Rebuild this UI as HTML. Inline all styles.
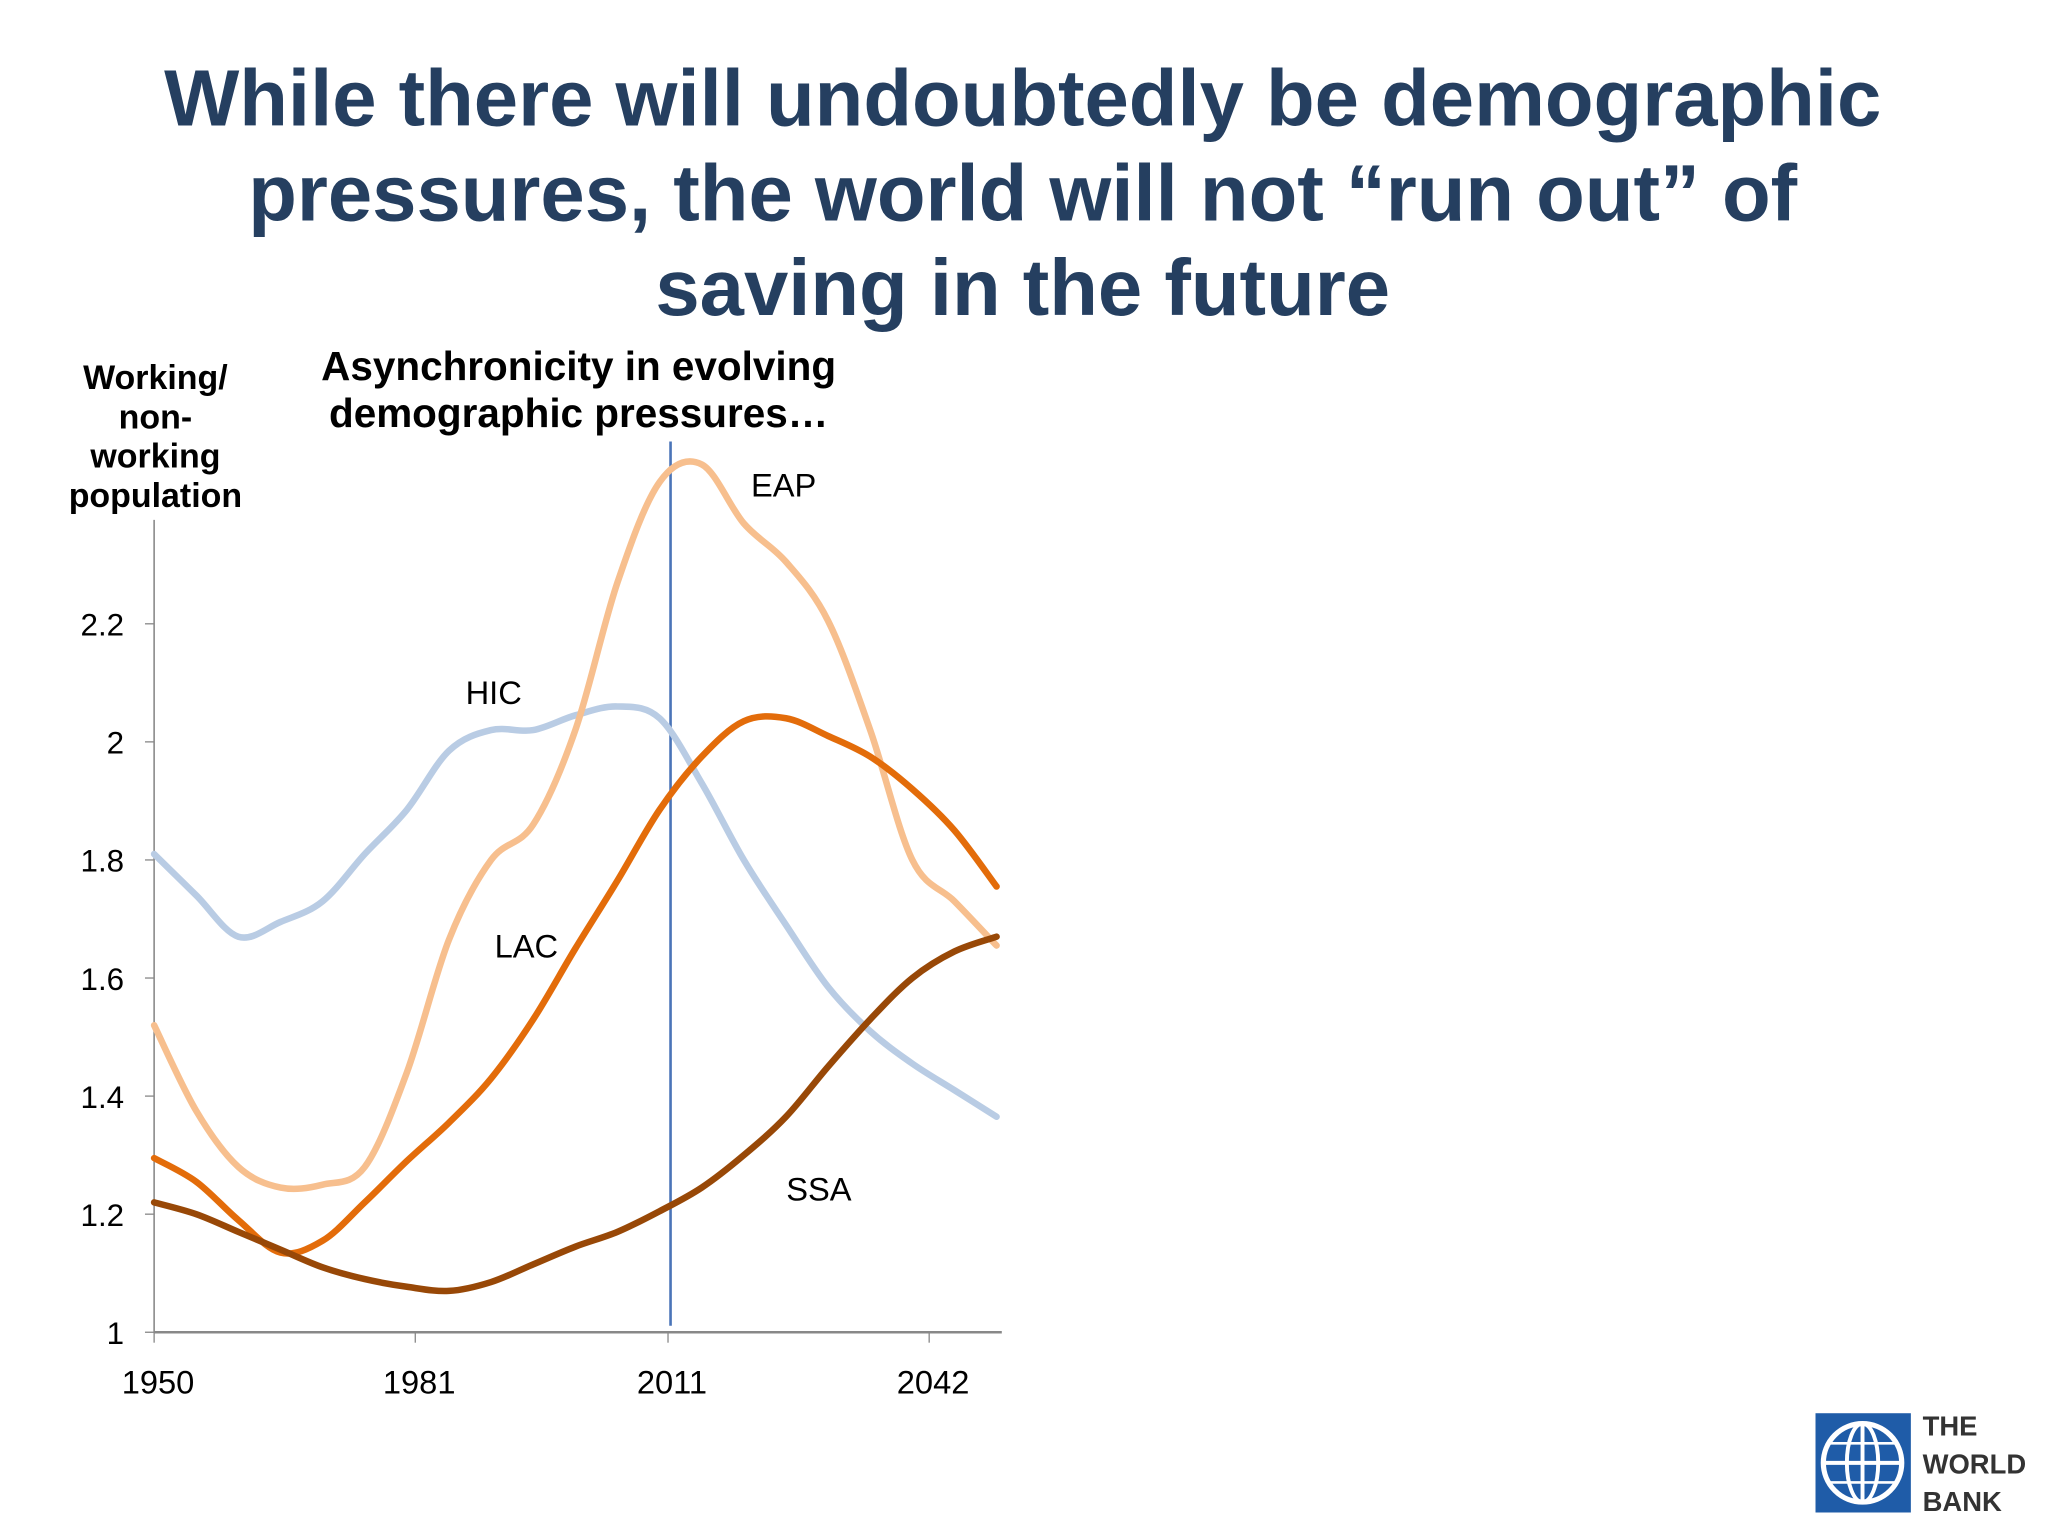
<!DOCTYPE html>
<html><head><meta charset="utf-8"><style>
html,body{margin:0;padding:0;background:#fff;}
svg{display:block;font-family:"Liberation Sans",sans-serif;}
</style></head><body>
<svg id="c" width="2048" height="1536" viewBox="0 0 1568 1176">
<g font-weight="bold" font-size="61" fill="#253f60" text-anchor="middle">
<text x="783" y="96">While there will undoubtedly be demographic</text>
<text x="783" y="169">pressures, the world will not “run out” of</text>
<text x="783" y="241">saving in the future</text>
</g>
<g font-weight="bold" font-size="26" text-anchor="middle" fill="#000">
<text x="119" y="298">Working/</text><text x="119" y="328">non-</text><text x="119" y="358">working</text><text x="119" y="388">population</text>
</g>
<g font-weight="bold" font-size="31" text-anchor="middle" fill="#000">
<text x="443" y="291">Asynchronicity in evolving</text><text x="443" y="327">demographic pressures…</text>
</g>
<g id="axes"></g>
<g id="series"></g>
<g>
<rect x="1390" y="1082" width="73" height="76" fill="#1f5ca8"/>
<circle cx="1426" cy="1120" r="30" fill="none" stroke="#fff" stroke-width="4"/>
<ellipse cx="1426" cy="1120" rx="12" ry="30" fill="none" stroke="#fff" stroke-width="3"/>
<line x1="1396" y1="1120" x2="1456" y2="1120" stroke="#fff" stroke-width="3"/>
<line x1="1426" y1="1090" x2="1426" y2="1150" stroke="#fff" stroke-width="3"/>
<line x1="1400" y1="1105" x2="1452" y2="1105" stroke="#fff" stroke-width="2"/>
<line x1="1400" y1="1135" x2="1452" y2="1135" stroke="#fff" stroke-width="2"/>
<g font-weight="bold" font-size="21" fill="#333"><text x="1472" y="1099">THE</text><text x="1472" y="1128">WORLD</text><text x="1472" y="1157">BANK</text></g>
</g>
</svg>
<script>
const years=[1950,1955,1960,1965,1970,1975,1980,1985,1990,1995,2000,2005,2010,2015,2020,2025,2030,2035,2040,2045,2050];
const hic=[1.81,1.74,1.67,1.695,1.73,1.81,1.885,1.985,2.02,2.02,2.045,2.06,2.04,1.93,1.80,1.69,1.585,1.51,1.455,1.41,1.365];
const eap=[1.52,1.375,1.28,1.245,1.25,1.28,1.44,1.665,1.80,1.86,2.02,2.27,2.44,2.47,2.37,2.305,2.205,2.02,1.80,1.73,1.655];
const lac=[1.295,1.255,1.19,1.135,1.155,1.22,1.29,1.355,1.43,1.53,1.65,1.765,1.885,1.975,2.035,2.04,2.01,1.975,1.92,1.85,1.755];
const ssa=[1.22,1.2,1.17,1.14,1.11,1.09,1.077,1.07,1.085,1.115,1.145,1.17,1.205,1.245,1.30,1.365,1.45,1.53,1.60,1.645,1.67];
const yTicks=[1,1.2,1.4,1.6,1.8,2,2.2];
const yTickLabels=["1","1.2","1.4","1.6","1.8","2","2.2"];
const xTicks=[1950,1981,2011,2042];
const markerYear=2011.3;
const NS="http://www.w3.org/2000/svg";
const X=y=>118+(y-1950)*6.45;
const Y=v=>1020-(v-1)*452;
function mk(t,a,p){const e=document.createElementNS(NS,t);for(const k in a)e.setAttribute(k,a[k]);p.appendChild(e);return e;}
const ax=document.getElementById('axes');
let e=mk('line',{x1:118,y1:398,x2:118,y2:1020,stroke:'#888','stroke-width':1.2},ax);


e=mk('line',{x1:118,y1:1020,x2:767,y2:1020,stroke:'#888','stroke-width':2},ax);


yTicks.forEach((v,i)=>{
 mk('line',{x1:111,y1:Y(v),x2:118,y2:Y(v),stroke:'#888'},ax);
 const t=mk('text',{x:95,y:Y(v)+9,'font-size':24,'text-anchor':'end'},ax);t.textContent=yTickLabels[i];
 
 
});
xTicks.forEach(v=>{
 mk('line',{x1:X(v),y1:1020,x2:X(v),y2:1028,stroke:'#888'},ax);
 const t=mk('text',{x:X(v)+3,y:1067,'font-size':25,'text-anchor':'middle'},ax);t.textContent=v;
 
 
});
e=mk('line',{x1:X(markerYear),y1:338,x2:X(markerYear),y2:1015,stroke:'#4a74b8','stroke-width':2},ax);


function path(vals){
 const p=years.map((y,i)=>[X(y),Y(vals[i])]);
 let d='M'+p[0][0]+','+p[0][1];
 for(let i=0;i<p.length-1;i++){
  const p0=p[i-1]||p[i],p1=p[i],p2=p[i+1],p3=p[i+2]||p2;
  d+=` C${p1[0]+(p2[0]-p0[0])/6},${p1[1]+(p2[1]-p0[1])/6} ${p2[0]-(p3[0]-p1[0])/6},${p2[1]-(p3[1]-p1[1])/6} ${p2[0]},${p2[1]}`;
 }
 return d;
}
const sg=document.getElementById('series');
const defs=[[hic,'#b9cce4','hic-line'],[eap,'#f7bf8e','eap-line'],[lac,'#e36c0a','lac-line'],[ssa,'#984807','ssa-line']];
defs.forEach(([v,c,n])=>{
 const l=mk('path',{d:path(v),fill:'none',stroke:c,'stroke-width':5,'stroke-linecap':'round'},sg);
 
 
});
[['HIC',378,539],['EAP',600,380],['LAC',403,733],['SSA',627,919]].forEach(([s,x,y])=>{
 const t=mk('text',{x:x,y:y,'font-size':25,'text-anchor':'middle'},sg);t.textContent=s;
 
 
});
</script>
</body></html>
